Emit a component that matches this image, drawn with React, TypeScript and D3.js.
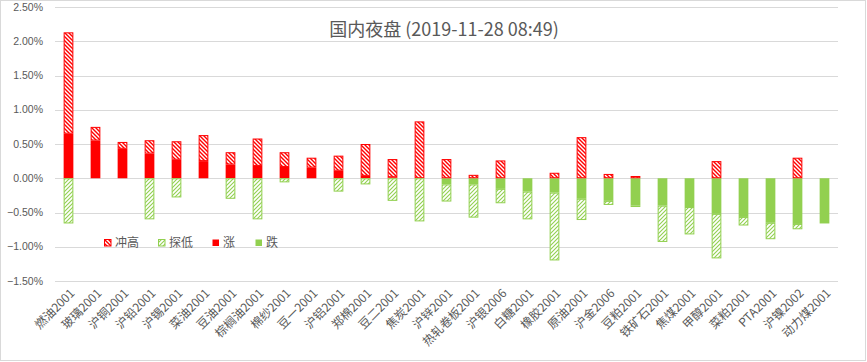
import React from "react";
import * as d3 from "d3";

// 品种
const categories = [
  "燃油2001", "玻璃2001", "沪铜2001", "沪铅2001", "沪锡2001", "菜油2001", "豆油2001",
  "棕榈油2001", "棉纱2001", "豆一2001", "沪铝2001", "郑棉2001", "豆二2001", "焦炭2001",
  "沪锌2001", "热轧卷板2001", "沪银2006", "白糖2001", "橡胶2001", "原油2001", "沪金2006",
  "豆粕2001", "铁矿石2001", "焦煤2001", "甲醇2001", "菜粕2001", "PTA2001", "沪镍2002", "动力煤2001",
];

// 涨 (%)
const rise = [
  0.65, 0.55, 0.43, 0.36, 0.27, 0.25, 0.2, 0.18, 0.165, 0.155, 0.11, 0.035, 0.015, 0,
  0, 0, 0, 0, 0, 0, 0, 0, 0, 0, 0, 0, 0, 0, 0,
];
// 跌 (%)
const fall = [
  0, 0, 0, 0, 0, 0, 0, 0, 0, 0, 0, 0, 0, 0,
  -0.09, -0.09, -0.155, -0.195, -0.21, -0.3, -0.33, -0.4, -0.4, -0.42, -0.52, -0.565, -0.65, -0.667, -0.66,
];
// 冲高 (%)，叠在涨之上
const high = [
  1.48, 0.2, 0.1, 0.195, 0.27, 0.38, 0.18, 0.4, 0.215, 0.145, 0.22, 0.465, 0.265, 0.83,
  0.28, 0.05, 0.26, 0, 0.08, 0.6, 0.063, 0.033, 0, 0, 0.25, 0, 0, 0.3, 0,
];
// 探低 (%)，叠在跌之下
const low = [
  -0.66, 0, 0, -0.6, -0.28, 0, -0.3, -0.6, -0.06, 0, -0.195, -0.09, -0.33, -0.63,
  -0.25, -0.485, -0.21, -0.405, -0.99, -0.31, -0.06, -0.02, -0.53, -0.4, -0.65, -0.125, -0.24, -0.078, 0,
];

const yTicks = [-1.5, -1.0, -0.5, 0, 0.5, 1.0, 1.5, 2.0, 2.5];

const W = 867;
const H = 362;
const RED = "#FF0000";
const GREEN = "#92D050";
const TEXT = "#595959";
const FONT = "'Noto Sans CJK SC', 'Noto Sans', sans-serif";

const keys = ["涨", "跌", "冲高", "探低"];
const fills: Record<string, string> = {
  涨: RED,
  跌: GREEN,
  冲高: "url(#hatchRed)",
  探低: "url(#hatchGreen)",
};
const strokes: Record<string, string> = {
  涨: "none",
  跌: "none",
  冲高: RED,
  探低: GREEN,
};

export default function App() {
  const x = d3.scaleBand<string>().domain(categories).range([55, 838]).paddingInner(0.64).paddingOuter(0.32);
  const y = d3.scaleLinear().domain([-1.5, 2.5]).range([281, 7]);

  const rows = categories.map((c, i) => ({
    name: c,
    涨: rise[i],
    跌: fall[i],
    冲高: high[i],
    探低: low[i],
  }));
  const series = d3
    .stack<any>()
    .keys(keys)
    .offset(d3.stackOffsetDiverging)(rows);

  const legend = [
    { key: "冲高", x: 104 },
    { key: "探低", x: 158 },
    { key: "涨", x: 212 },
    { key: "跌", x: 255 },
  ];

  return (
    <svg width={W} height={H} style={{ position: "absolute", left: 0, top: 0 }} fontFamily={FONT}>
      <defs>
        <pattern id="hatchRed" patternUnits="userSpaceOnUse" width={4} height={4}>
          <rect width={4} height={4} fill="#fff" />
          <path d="M-1,-1 L5,5 M-1,3 L1,5 M3,-1 L5,1" stroke={RED} strokeWidth={1.4} />
        </pattern>
        <pattern id="hatchGreen" patternUnits="userSpaceOnUse" width={4} height={4}>
          <rect width={4} height={4} fill="#fff" />
          <path d="M-1,5 L5,-1 M-1,1 L1,-1 M3,5 L5,3" stroke={GREEN} strokeWidth={1.1} />
        </pattern>
      </defs>
      <rect x={0.5} y={0.5} width={W - 2} height={H - 2} fill="#fff" stroke="#D9D9D9" />

      {/* grid + y axis */}
      {yTicks.map((t) => (
        <g key={t}>
          <line x1={55} x2={838} y1={Math.round(y(t)) + 0.5} y2={Math.round(y(t)) + 0.5} stroke="#D9D9D9" />
          <text x={43} y={y(t)} dy="0.35em" textAnchor="end" fontSize={10.5} fill={TEXT}
            fontFamily="'Liberation Sans', Arial, sans-serif">
            {d3.format(".2f")(t) + "%"}
          </text>
        </g>
      ))}

      {/* bars */}
      {series.map((s) =>
        s.map((d, i) => {
          const y0 = y(d[0]);
          const y1 = y(d[1]);
          const h = Math.abs(y1 - y0);
          if (h < 0.3) return null;
          const hatched = s.key === "冲高" || s.key === "探低";
          return (
            <rect
              key={s.key + i}
              x={x(categories[i])! + (hatched ? 0.5 : 0)}
              y={Math.min(y0, y1) + (hatched ? 0.5 : 0)}
              width={x.bandwidth() - (hatched ? 1 : 0)}
              height={Math.max(0, h - (hatched ? 1 : 0))}
              fill={fills[s.key]}
              stroke={strokes[s.key]}
              strokeWidth={1}
            />
          );
        })
      )}

      {/* x labels */}
      {categories.map((c) => (
        <text
          key={c}
          transform={`translate(${x(c)! + x.bandwidth() / 2 + 4},${291}) rotate(-45)`}
          textAnchor="end"
          dy="0.35em"
          fontSize={12}
          fill={TEXT}
        >
          {c}
        </text>
      ))}

      {/* legend */}
      {legend.map((l) => (
        <g key={l.key} transform={`translate(${l.x},${239})`}>
          <rect
            x={0.5}
            y={0.5}
            width={6.5}
            height={6.5}
            fill={fills[l.key]}
            stroke={strokes[l.key]}
          />
          <text x={11} y={4} dy="0.35em" fontSize={12} fill={TEXT}>
            {l.key}
          </text>
        </g>
      ))}

      {/* title */}
      <text x={444} y={36} textAnchor="middle" fontSize={18} fill={TEXT}>
        国内夜盘 (2019-11-28 08:49)
      </text>
    </svg>
  );
}
